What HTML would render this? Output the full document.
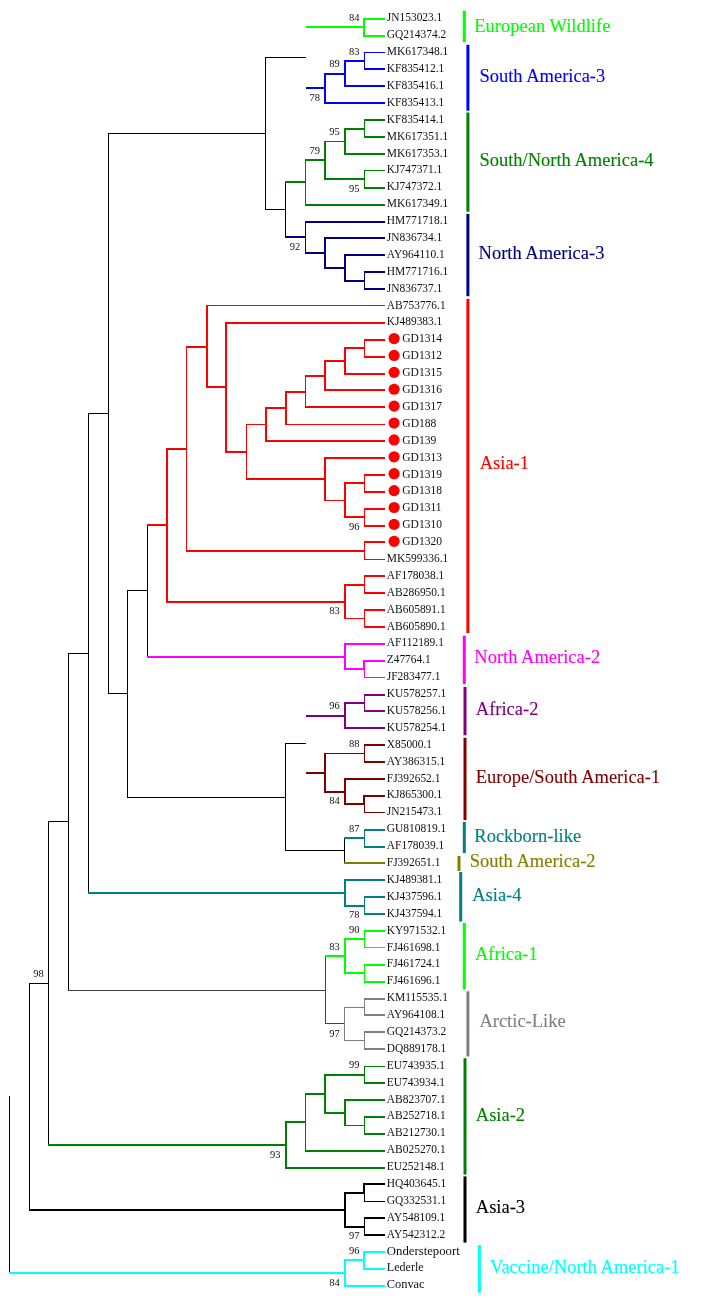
<!DOCTYPE html>
<html><head><meta charset="utf-8"><style>
html,body{margin:0;padding:0;background:#fff;width:701px;height:1298px;overflow:hidden}
svg{display:block;will-change:transform}
#w{width:701px;height:1298px}
.lf{font-family:"Liberation Serif",serif;font-size:12px;fill:#111}
.bt{font-family:"Liberation Serif",serif;font-size:10.5px;fill:#111}
.gp{font-family:"Liberation Serif",serif;font-size:18.5px;stroke-width:0.12px}
</style></head><body>
<div id="w"><svg width="701" height="1298" viewBox="0 0 701 1298">
<rect width="701" height="1298" fill="#fff"/>
<rect x="9" y="1096" width="1" height="90" fill="#000000"/>
<rect x="9" y="1185" width="1" height="89" fill="#000000"/>
<rect x="29" y="983" width="1" height="115" fill="#000000"/>
<rect x="29" y="1097" width="1" height="114" fill="#000000"/>
<rect x="29" y="983" width="20" height="1" fill="#000000"/>
<rect x="48" y="821" width="1" height="163" fill="#000000"/>
<rect x="48" y="983" width="1" height="163" fill="#000000"/>
<rect x="48" y="821" width="21" height="1" fill="#000000"/>
<rect x="68" y="653" width="1" height="170" fill="#000000"/>
<rect x="68" y="822" width="1" height="169" fill="#000000"/>
<rect x="68" y="653" width="21" height="1" fill="#000000"/>
<rect x="88" y="413" width="1" height="241" fill="#000000"/>
<rect x="88" y="653" width="1" height="241" fill="#000000"/>
<rect x="88" y="413" width="21" height="1" fill="#000000"/>
<rect x="108" y="133" width="1" height="282" fill="#000000"/>
<rect x="108" y="414" width="1" height="280" fill="#000000"/>
<rect x="108" y="133" width="158" height="1" fill="#000000"/>
<rect x="265" y="57" width="1" height="78" fill="#000000"/>
<rect x="265" y="134" width="1" height="76" fill="#000000"/>
<rect x="265" y="57" width="41" height="1" fill="#000000"/>
<rect x="265" y="209" width="21" height="1" fill="#000000"/>
<rect x="285" y="181" width="1" height="30" fill="#000000"/>
<rect x="285" y="210" width="1" height="28" fill="#000000"/>
<rect x="285" y="181" width="21" height="2" fill="#008000"/>
<rect x="305" y="159" width="1" height="24" fill="#008000"/>
<rect x="305" y="182" width="1" height="24" fill="#008000"/>
<rect x="305" y="159" width="21" height="2" fill="#008000"/>
<rect x="324" y="141" width="2" height="20" fill="#008000"/>
<rect x="324" y="160" width="2" height="20" fill="#008000"/>
<rect x="324" y="141" width="22" height="1" fill="#008000"/>
<rect x="344" y="128" width="2" height="14" fill="#008000"/>
<rect x="344" y="141" width="2" height="14" fill="#008000"/>
<rect x="344" y="128" width="21" height="2" fill="#008000"/>
<rect x="364" y="119" width="1" height="11" fill="#008000"/>
<rect x="364" y="129" width="1" height="9" fill="#008000"/>
<rect x="364" y="119" width="21" height="2" fill="#008000"/>
<rect x="364" y="136" width="21" height="2" fill="#008000"/>
<rect x="344" y="153" width="41" height="2" fill="#008000"/>
<rect x="324" y="178" width="41" height="2" fill="#008000"/>
<rect x="364" y="170" width="1" height="10" fill="#008000"/>
<rect x="364" y="179" width="1" height="10" fill="#008000"/>
<rect x="364" y="170" width="21" height="1" fill="#008000"/>
<rect x="364" y="187" width="21" height="2" fill="#008000"/>
<rect x="305" y="204" width="80" height="2" fill="#008000"/>
<rect x="285" y="236" width="21" height="2" fill="#000080"/>
<rect x="305" y="221" width="1" height="17" fill="#000080"/>
<rect x="305" y="237" width="1" height="17" fill="#000080"/>
<rect x="305" y="221" width="80" height="2" fill="#000080"/>
<rect x="305" y="252" width="21" height="2" fill="#000080"/>
<rect x="324" y="237" width="2" height="17" fill="#000080"/>
<rect x="324" y="253" width="2" height="16" fill="#000080"/>
<rect x="324" y="237" width="61" height="2" fill="#000080"/>
<rect x="324" y="267" width="22" height="2" fill="#000080"/>
<rect x="344" y="254" width="2" height="15" fill="#000080"/>
<rect x="344" y="268" width="2" height="14" fill="#000080"/>
<rect x="344" y="254" width="41" height="2" fill="#000080"/>
<rect x="344" y="280" width="21" height="2" fill="#000080"/>
<rect x="364" y="271" width="1" height="11" fill="#000080"/>
<rect x="364" y="281" width="1" height="9" fill="#000080"/>
<rect x="364" y="271" width="21" height="2" fill="#000080"/>
<rect x="364" y="288" width="21" height="2" fill="#000080"/>
<rect x="108" y="693" width="20" height="1" fill="#000000"/>
<rect x="127" y="590" width="1" height="105" fill="#000000"/>
<rect x="127" y="694" width="1" height="104" fill="#000000"/>
<rect x="127" y="590" width="21" height="1" fill="#000000"/>
<rect x="147" y="524" width="1" height="68" fill="#000000"/>
<rect x="147" y="591" width="1" height="67" fill="#000000"/>
<rect x="147" y="524" width="21" height="2" fill="#ff0000"/>
<rect x="166" y="448" width="2" height="78" fill="#ff0000"/>
<rect x="166" y="525" width="2" height="78" fill="#ff0000"/>
<rect x="166" y="448" width="21" height="2" fill="#ff0000"/>
<rect x="186" y="346" width="1" height="104" fill="#ff0000"/>
<rect x="186" y="449" width="1" height="103" fill="#ff0000"/>
<rect x="186" y="346" width="22" height="2" fill="#ff0000"/>
<rect x="206" y="305" width="2" height="43" fill="#ff0000"/>
<rect x="206" y="347" width="2" height="41" fill="#ff0000"/>
<rect x="206" y="305" width="179" height="1" fill="#ff0000"/>
<rect x="206" y="386" width="21" height="2" fill="#ff0000"/>
<rect x="225" y="322" width="2" height="66" fill="#ff0000"/>
<rect x="225" y="387" width="2" height="66" fill="#ff0000"/>
<rect x="225" y="322" width="160" height="2" fill="#ff0000"/>
<rect x="225" y="451" width="22" height="2" fill="#ff0000"/>
<rect x="246" y="424" width="1" height="29" fill="#ff0000"/>
<rect x="246" y="452" width="1" height="28" fill="#ff0000"/>
<rect x="246" y="424" width="21" height="1" fill="#ff0000"/>
<rect x="265" y="407" width="2" height="18" fill="#ff0000"/>
<rect x="265" y="424" width="2" height="18" fill="#ff0000"/>
<rect x="265" y="407" width="22" height="2" fill="#ff0000"/>
<rect x="285" y="391" width="2" height="18" fill="#ff0000"/>
<rect x="285" y="408" width="2" height="17" fill="#ff0000"/>
<rect x="285" y="391" width="21" height="2" fill="#ff0000"/>
<rect x="305" y="375" width="1" height="18" fill="#ff0000"/>
<rect x="305" y="392" width="1" height="16" fill="#ff0000"/>
<rect x="305" y="375" width="21" height="2" fill="#ff0000"/>
<rect x="324" y="360" width="2" height="17" fill="#ff0000"/>
<rect x="324" y="376" width="2" height="15" fill="#ff0000"/>
<rect x="324" y="360" width="22" height="2" fill="#ff0000"/>
<rect x="344" y="347" width="2" height="15" fill="#ff0000"/>
<rect x="344" y="361" width="2" height="14" fill="#ff0000"/>
<rect x="344" y="347" width="21" height="2" fill="#ff0000"/>
<rect x="364" y="339" width="1" height="10" fill="#ff0000"/>
<rect x="364" y="348" width="1" height="10" fill="#ff0000"/>
<rect x="364" y="339" width="21" height="2" fill="#ff0000"/>
<rect x="364" y="356" width="21" height="2" fill="#ff0000"/>
<rect x="344" y="373" width="41" height="2" fill="#ff0000"/>
<rect x="324" y="389" width="61" height="2" fill="#ff0000"/>
<rect x="305" y="406" width="80" height="2" fill="#ff0000"/>
<rect x="285" y="424" width="100" height="1" fill="#ff0000"/>
<rect x="265" y="440" width="120" height="2" fill="#ff0000"/>
<rect x="246" y="478" width="80" height="2" fill="#ff0000"/>
<rect x="324" y="457" width="2" height="23" fill="#ff0000"/>
<rect x="324" y="479" width="2" height="22" fill="#ff0000"/>
<rect x="324" y="457" width="61" height="2" fill="#ff0000"/>
<rect x="324" y="500" width="22" height="1" fill="#ff0000"/>
<rect x="344" y="482" width="2" height="19" fill="#ff0000"/>
<rect x="344" y="500" width="2" height="18" fill="#ff0000"/>
<rect x="344" y="482" width="21" height="2" fill="#ff0000"/>
<rect x="364" y="474" width="1" height="10" fill="#ff0000"/>
<rect x="364" y="483" width="1" height="10" fill="#ff0000"/>
<rect x="364" y="474" width="21" height="2" fill="#ff0000"/>
<rect x="364" y="491" width="21" height="2" fill="#ff0000"/>
<rect x="344" y="516" width="21" height="2" fill="#ff0000"/>
<rect x="364" y="508" width="1" height="10" fill="#ff0000"/>
<rect x="364" y="517" width="1" height="10" fill="#ff0000"/>
<rect x="364" y="508" width="21" height="2" fill="#ff0000"/>
<rect x="364" y="525" width="21" height="2" fill="#ff0000"/>
<rect x="186" y="550" width="179" height="2" fill="#ff0000"/>
<rect x="364" y="541" width="1" height="11" fill="#ff0000"/>
<rect x="364" y="551" width="1" height="9" fill="#ff0000"/>
<rect x="364" y="541" width="21" height="2" fill="#ff0000"/>
<rect x="364" y="559" width="21" height="1" fill="#ff0000"/>
<rect x="166" y="601" width="180" height="2" fill="#ff0000"/>
<rect x="344" y="584" width="2" height="19" fill="#ff0000"/>
<rect x="344" y="602" width="2" height="17" fill="#ff0000"/>
<rect x="344" y="584" width="21" height="2" fill="#ff0000"/>
<rect x="364" y="575" width="1" height="11" fill="#ff0000"/>
<rect x="364" y="585" width="1" height="9" fill="#ff0000"/>
<rect x="364" y="575" width="21" height="2" fill="#ff0000"/>
<rect x="364" y="592" width="21" height="2" fill="#ff0000"/>
<rect x="344" y="618" width="21" height="1" fill="#ff0000"/>
<rect x="364" y="609" width="1" height="11" fill="#ff0000"/>
<rect x="364" y="619" width="1" height="9" fill="#ff0000"/>
<rect x="364" y="609" width="21" height="2" fill="#ff0000"/>
<rect x="364" y="626" width="21" height="2" fill="#ff0000"/>
<rect x="147" y="656" width="199" height="2" fill="#ff00ff"/>
<rect x="344" y="643" width="2" height="15" fill="#ff00ff"/>
<rect x="344" y="657" width="2" height="13" fill="#ff00ff"/>
<rect x="344" y="643" width="41" height="2" fill="#ff00ff"/>
<rect x="344" y="668" width="21" height="2" fill="#ff00ff"/>
<rect x="363" y="660" width="2" height="10" fill="#ff00ff"/>
<rect x="364" y="669" width="1" height="9" fill="#ff00ff"/>
<rect x="363" y="660" width="22" height="2" fill="#ff00ff"/>
<rect x="364" y="677" width="21" height="1" fill="#ff00ff"/>
<rect x="127" y="797" width="159" height="1" fill="#000000"/>
<rect x="285" y="743" width="1" height="55" fill="#000000"/>
<rect x="285" y="797" width="1" height="54" fill="#000000"/>
<rect x="285" y="743" width="21" height="1" fill="#000000"/>
<rect x="285" y="850" width="60" height="1" fill="#000000"/>
<rect x="344" y="837" width="1" height="15" fill="#000000"/>
<rect x="344" y="851" width="1" height="13" fill="#000000"/>
<rect x="344" y="837" width="21" height="2" fill="#008080"/>
<rect x="364" y="829" width="1" height="10" fill="#008080"/>
<rect x="364" y="838" width="1" height="10" fill="#008080"/>
<rect x="364" y="829" width="21" height="2" fill="#008080"/>
<rect x="364" y="846" width="21" height="2" fill="#008080"/>
<rect x="344" y="862" width="41" height="2" fill="#808000"/>
<rect x="88" y="892" width="258" height="2" fill="#008080"/>
<rect x="344" y="879" width="2" height="15" fill="#008080"/>
<rect x="344" y="893" width="2" height="14" fill="#008080"/>
<rect x="344" y="879" width="41" height="2" fill="#008080"/>
<rect x="344" y="905" width="21" height="2" fill="#008080"/>
<rect x="364" y="896" width="1" height="11" fill="#008080"/>
<rect x="364" y="906" width="1" height="9" fill="#008080"/>
<rect x="364" y="896" width="21" height="2" fill="#008080"/>
<rect x="364" y="913" width="21" height="2" fill="#008080"/>
<rect x="68" y="990" width="258" height="1" fill="#404040"/>
<rect x="325" y="955" width="1" height="36" fill="#404040"/>
<rect x="325" y="990" width="1" height="34" fill="#404040"/>
<rect x="325" y="955" width="21" height="2" fill="#00ff00"/>
<rect x="344" y="938" width="2" height="19" fill="#00ff00"/>
<rect x="344" y="956" width="2" height="18" fill="#00ff00"/>
<rect x="344" y="938" width="21" height="2" fill="#00ff00"/>
<rect x="364" y="930" width="1" height="10" fill="#00ff00"/>
<rect x="364" y="939" width="1" height="9" fill="#00ff00"/>
<rect x="364" y="930" width="21" height="2" fill="#00ff00"/>
<rect x="364" y="947" width="21" height="1" fill="#00ff00"/>
<rect x="344" y="972" width="21" height="2" fill="#00ff00"/>
<rect x="364" y="964" width="1" height="10" fill="#00ff00"/>
<rect x="364" y="973" width="1" height="10" fill="#00ff00"/>
<rect x="364" y="964" width="21" height="2" fill="#00ff00"/>
<rect x="364" y="981" width="21" height="2" fill="#00ff00"/>
<rect x="325" y="1023" width="20" height="1" fill="#404040"/>
<rect x="344" y="1007" width="1" height="18" fill="#808080"/>
<rect x="344" y="1024" width="1" height="17" fill="#808080"/>
<rect x="344" y="1007" width="21" height="1" fill="#808080"/>
<rect x="364" y="998" width="1" height="10" fill="#808080"/>
<rect x="364" y="1007" width="1" height="9" fill="#808080"/>
<rect x="364" y="998" width="21" height="2" fill="#808080"/>
<rect x="364" y="1014" width="21" height="2" fill="#808080"/>
<rect x="344" y="1040" width="21" height="1" fill="#808080"/>
<rect x="364" y="1031" width="1" height="11" fill="#808080"/>
<rect x="364" y="1041" width="1" height="9" fill="#808080"/>
<rect x="364" y="1031" width="21" height="2" fill="#808080"/>
<rect x="364" y="1048" width="21" height="2" fill="#808080"/>
<rect x="48" y="1144" width="239" height="2" fill="#008000"/>
<rect x="285" y="1121" width="2" height="25" fill="#008000"/>
<rect x="285" y="1145" width="2" height="24" fill="#008000"/>
<rect x="285" y="1121" width="21" height="2" fill="#008000"/>
<rect x="305" y="1093" width="1" height="30" fill="#008000"/>
<rect x="305" y="1122" width="1" height="30" fill="#008000"/>
<rect x="305" y="1093" width="21" height="2" fill="#008000"/>
<rect x="324" y="1074" width="2" height="21" fill="#008000"/>
<rect x="324" y="1094" width="2" height="20" fill="#008000"/>
<rect x="324" y="1074" width="41" height="2" fill="#008000"/>
<rect x="364" y="1066" width="1" height="10" fill="#008000"/>
<rect x="364" y="1075" width="1" height="9" fill="#008000"/>
<rect x="364" y="1066" width="21" height="1" fill="#008000"/>
<rect x="364" y="1082" width="21" height="2" fill="#008000"/>
<rect x="324" y="1112" width="22" height="2" fill="#008000"/>
<rect x="344" y="1099" width="2" height="15" fill="#008000"/>
<rect x="344" y="1113" width="2" height="13" fill="#008000"/>
<rect x="344" y="1099" width="41" height="2" fill="#008000"/>
<rect x="344" y="1125" width="21" height="1" fill="#008000"/>
<rect x="364" y="1116" width="1" height="10" fill="#008000"/>
<rect x="364" y="1125" width="1" height="10" fill="#008000"/>
<rect x="364" y="1116" width="21" height="2" fill="#008000"/>
<rect x="364" y="1133" width="21" height="2" fill="#008000"/>
<rect x="305" y="1150" width="80" height="2" fill="#008000"/>
<rect x="285" y="1167" width="100" height="2" fill="#008000"/>
<rect x="29" y="1209" width="317" height="2" fill="#000000"/>
<rect x="344" y="1192" width="2" height="19" fill="#000000"/>
<rect x="344" y="1210" width="2" height="18" fill="#000000"/>
<rect x="344" y="1192" width="21" height="2" fill="#000000"/>
<rect x="363" y="1183" width="2" height="11" fill="#000000"/>
<rect x="364" y="1193" width="1" height="9" fill="#000000"/>
<rect x="363" y="1183" width="22" height="2" fill="#000000"/>
<rect x="364" y="1201" width="21" height="1" fill="#000000"/>
<rect x="344" y="1226" width="21" height="2" fill="#000000"/>
<rect x="364" y="1217" width="1" height="11" fill="#000000"/>
<rect x="364" y="1227" width="1" height="9" fill="#000000"/>
<rect x="364" y="1217" width="21" height="2" fill="#000000"/>
<rect x="364" y="1234" width="21" height="2" fill="#000000"/>
<rect x="9" y="1272" width="337" height="2" fill="#00ffff"/>
<rect x="344" y="1259" width="2" height="15" fill="#00ffff"/>
<rect x="344" y="1273" width="2" height="14" fill="#00ffff"/>
<rect x="344" y="1259" width="21" height="2" fill="#00ffff"/>
<rect x="363" y="1251" width="2" height="10" fill="#00ffff"/>
<rect x="363" y="1260" width="2" height="10" fill="#00ffff"/>
<rect x="363" y="1251" width="22" height="2" fill="#00ffff"/>
<rect x="363" y="1268" width="22" height="2" fill="#00ffff"/>
<rect x="344" y="1285" width="41" height="2" fill="#00ffff"/>
<rect x="306" y="26" width="59" height="2" fill="#00ff00"/>
<rect x="363" y="18" width="2" height="10" fill="#00ff00"/>
<rect x="363" y="27" width="2" height="10" fill="#00ff00"/>
<rect x="363" y="18" width="22" height="2" fill="#00ff00"/>
<rect x="363" y="35" width="22" height="2" fill="#00ff00"/>
<rect x="306" y="87" width="20" height="2" fill="#0000ff"/>
<rect x="324" y="73" width="2" height="16" fill="#0000ff"/>
<rect x="324" y="88" width="2" height="16" fill="#0000ff"/>
<rect x="324" y="73" width="22" height="2" fill="#0000ff"/>
<rect x="344" y="60" width="2" height="15" fill="#0000ff"/>
<rect x="344" y="74" width="2" height="13" fill="#0000ff"/>
<rect x="344" y="60" width="21" height="2" fill="#0000ff"/>
<rect x="364" y="52" width="1" height="10" fill="#0000ff"/>
<rect x="364" y="61" width="1" height="9" fill="#0000ff"/>
<rect x="364" y="52" width="21" height="1" fill="#0000ff"/>
<rect x="364" y="68" width="21" height="2" fill="#0000ff"/>
<rect x="344" y="85" width="41" height="2" fill="#0000ff"/>
<rect x="324" y="102" width="61" height="2" fill="#0000ff"/>
<rect x="306" y="715" width="40" height="2" fill="#800080"/>
<rect x="344" y="702" width="2" height="15" fill="#800080"/>
<rect x="344" y="716" width="2" height="13" fill="#800080"/>
<rect x="344" y="702" width="21" height="2" fill="#800080"/>
<rect x="364" y="694" width="1" height="10" fill="#800080"/>
<rect x="364" y="703" width="1" height="9" fill="#800080"/>
<rect x="364" y="694" width="21" height="2" fill="#800080"/>
<rect x="364" y="710" width="21" height="2" fill="#800080"/>
<rect x="344" y="727" width="41" height="2" fill="#800080"/>
<rect x="306" y="772" width="20" height="2" fill="#800000"/>
<rect x="324" y="753" width="2" height="21" fill="#800000"/>
<rect x="324" y="773" width="2" height="20" fill="#800000"/>
<rect x="324" y="753" width="41" height="1" fill="#800000"/>
<rect x="364" y="744" width="1" height="11" fill="#800000"/>
<rect x="364" y="754" width="1" height="9" fill="#800000"/>
<rect x="364" y="744" width="21" height="2" fill="#800000"/>
<rect x="364" y="761" width="21" height="2" fill="#800000"/>
<rect x="324" y="791" width="22" height="2" fill="#800000"/>
<rect x="344" y="778" width="2" height="15" fill="#800000"/>
<rect x="344" y="792" width="2" height="13" fill="#800000"/>
<rect x="344" y="778" width="41" height="2" fill="#800000"/>
<rect x="344" y="803" width="21" height="2" fill="#800000"/>
<rect x="363" y="795" width="2" height="10" fill="#800000"/>
<rect x="364" y="804" width="1" height="9" fill="#800000"/>
<rect x="363" y="795" width="22" height="2" fill="#800000"/>
<rect x="364" y="812" width="21" height="1" fill="#800000"/>
<circle cx="394.1" cy="338.57" r="5.6" fill="#ff0000"/>
<circle cx="394.1" cy="355.46" r="5.6" fill="#ff0000"/>
<circle cx="394.1" cy="372.35" r="5.6" fill="#ff0000"/>
<circle cx="394.1" cy="389.25" r="5.6" fill="#ff0000"/>
<circle cx="394.1" cy="406.14" r="5.6" fill="#ff0000"/>
<circle cx="394.1" cy="423.03" r="5.6" fill="#ff0000"/>
<circle cx="394.1" cy="439.93" r="5.6" fill="#ff0000"/>
<circle cx="394.1" cy="456.82" r="5.6" fill="#ff0000"/>
<circle cx="394.1" cy="473.71" r="5.6" fill="#ff0000"/>
<circle cx="394.1" cy="490.6" r="5.6" fill="#ff0000"/>
<circle cx="394.1" cy="507.5" r="5.6" fill="#ff0000"/>
<circle cx="394.1" cy="524.39" r="5.6" fill="#ff0000"/>
<circle cx="394.1" cy="541.28" r="5.6" fill="#ff0000"/>
<text class="lf" x="386.8" y="21.4" textLength="55.54" lengthAdjust="spacingAndGlyphs">JN153023.1</text>
<text class="lf" x="386.8" y="38.29" textLength="59.53" lengthAdjust="spacingAndGlyphs">GQ214374.2</text>
<text class="lf" x="386.8" y="55.19" textLength="61.54" lengthAdjust="spacingAndGlyphs">MK617348.1</text>
<text class="lf" x="386.8" y="72.08" textLength="57.54" lengthAdjust="spacingAndGlyphs">KF835412.1</text>
<text class="lf" x="386.8" y="88.97" textLength="57.54" lengthAdjust="spacingAndGlyphs">KF835416.1</text>
<text class="lf" x="386.8" y="105.86" textLength="57.54" lengthAdjust="spacingAndGlyphs">KF835413.1</text>
<text class="lf" x="386.8" y="122.76" textLength="57.54" lengthAdjust="spacingAndGlyphs">KF835414.1</text>
<text class="lf" x="386.8" y="139.65" textLength="61.54" lengthAdjust="spacingAndGlyphs">MK617351.1</text>
<text class="lf" x="386.8" y="156.54" textLength="61.54" lengthAdjust="spacingAndGlyphs">MK617353.1</text>
<text class="lf" x="386.8" y="173.44" textLength="55.54" lengthAdjust="spacingAndGlyphs">KJ747371.1</text>
<text class="lf" x="386.8" y="190.33" textLength="55.54" lengthAdjust="spacingAndGlyphs">KJ747372.1</text>
<text class="lf" x="386.8" y="207.22" textLength="61.54" lengthAdjust="spacingAndGlyphs">MK617349.1</text>
<text class="lf" x="386.8" y="224.12" textLength="61.54" lengthAdjust="spacingAndGlyphs">HM771718.1</text>
<text class="lf" x="386.8" y="241.01" textLength="55.54" lengthAdjust="spacingAndGlyphs">JN836734.1</text>
<text class="lf" x="386.8" y="257.9" textLength="57.98" lengthAdjust="spacingAndGlyphs">AY964110.1</text>
<text class="lf" x="386.8" y="274.8" textLength="61.54" lengthAdjust="spacingAndGlyphs">HM771716.1</text>
<text class="lf" x="386.8" y="291.69" textLength="55.54" lengthAdjust="spacingAndGlyphs">JN836737.1</text>
<text class="lf" x="386.8" y="308.58" textLength="58.87" lengthAdjust="spacingAndGlyphs">AB753776.1</text>
<text class="lf" x="386.8" y="325.47" textLength="55.54" lengthAdjust="spacingAndGlyphs">KJ489383.1</text>
<text class="lf" x="402.3" y="342.37" textLength="39.73" lengthAdjust="spacingAndGlyphs">GD1314</text>
<text class="lf" x="402.3" y="359.26" textLength="39.73" lengthAdjust="spacingAndGlyphs">GD1312</text>
<text class="lf" x="402.3" y="376.15" textLength="39.73" lengthAdjust="spacingAndGlyphs">GD1315</text>
<text class="lf" x="402.3" y="393.05" textLength="39.73" lengthAdjust="spacingAndGlyphs">GD1316</text>
<text class="lf" x="402.3" y="409.94" textLength="39.73" lengthAdjust="spacingAndGlyphs">GD1317</text>
<text class="lf" x="402.3" y="426.83" textLength="34.13" lengthAdjust="spacingAndGlyphs">GD188</text>
<text class="lf" x="402.3" y="443.73" textLength="34.13" lengthAdjust="spacingAndGlyphs">GD139</text>
<text class="lf" x="402.3" y="460.62" textLength="39.73" lengthAdjust="spacingAndGlyphs">GD1313</text>
<text class="lf" x="402.3" y="477.51" textLength="39.73" lengthAdjust="spacingAndGlyphs">GD1319</text>
<text class="lf" x="402.3" y="494.4" textLength="39.73" lengthAdjust="spacingAndGlyphs">GD1318</text>
<text class="lf" x="402.3" y="511.3" textLength="39.29" lengthAdjust="spacingAndGlyphs">GD1311</text>
<text class="lf" x="402.3" y="528.19" textLength="39.73" lengthAdjust="spacingAndGlyphs">GD1310</text>
<text class="lf" x="402.3" y="545.08" textLength="39.73" lengthAdjust="spacingAndGlyphs">GD1320</text>
<text class="lf" x="386.8" y="561.98" textLength="61.54" lengthAdjust="spacingAndGlyphs">MK599336.1</text>
<text class="lf" x="386.8" y="578.87" textLength="57.54" lengthAdjust="spacingAndGlyphs">AF178038.1</text>
<text class="lf" x="386.8" y="595.76" textLength="58.87" lengthAdjust="spacingAndGlyphs">AB286950.1</text>
<text class="lf" x="386.8" y="612.65" textLength="58.87" lengthAdjust="spacingAndGlyphs">AB605891.1</text>
<text class="lf" x="386.8" y="629.55" textLength="58.87" lengthAdjust="spacingAndGlyphs">AB605890.1</text>
<text class="lf" x="386.8" y="646.44" textLength="57.09" lengthAdjust="spacingAndGlyphs">AF112189.1</text>
<text class="lf" x="386.8" y="663.33" textLength="43.93" lengthAdjust="spacingAndGlyphs">Z47764.1</text>
<text class="lf" x="386.8" y="680.23" textLength="53.54" lengthAdjust="spacingAndGlyphs">JF283477.1</text>
<text class="lf" x="386.8" y="697.12" textLength="59.53" lengthAdjust="spacingAndGlyphs">KU578257.1</text>
<text class="lf" x="386.8" y="714.01" textLength="59.53" lengthAdjust="spacingAndGlyphs">KU578256.1</text>
<text class="lf" x="386.8" y="730.91" textLength="59.53" lengthAdjust="spacingAndGlyphs">KU578254.1</text>
<text class="lf" x="386.8" y="747.8" textLength="45.27" lengthAdjust="spacingAndGlyphs">X85000.1</text>
<text class="lf" x="386.8" y="764.69" textLength="58.43" lengthAdjust="spacingAndGlyphs">AY386315.1</text>
<text class="lf" x="386.8" y="781.59" textLength="53.54" lengthAdjust="spacingAndGlyphs">FJ392652.1</text>
<text class="lf" x="386.8" y="798.48" textLength="55.54" lengthAdjust="spacingAndGlyphs">KJ865300.1</text>
<text class="lf" x="386.8" y="815.37" textLength="55.54" lengthAdjust="spacingAndGlyphs">JN215473.1</text>
<text class="lf" x="386.8" y="832.26" textLength="59.53" lengthAdjust="spacingAndGlyphs">GU810819.1</text>
<text class="lf" x="386.8" y="849.16" textLength="57.54" lengthAdjust="spacingAndGlyphs">AF178039.1</text>
<text class="lf" x="386.8" y="866.05" textLength="53.54" lengthAdjust="spacingAndGlyphs">FJ392651.1</text>
<text class="lf" x="386.8" y="882.94" textLength="55.54" lengthAdjust="spacingAndGlyphs">KJ489381.1</text>
<text class="lf" x="386.8" y="899.84" textLength="55.54" lengthAdjust="spacingAndGlyphs">KJ437596.1</text>
<text class="lf" x="386.8" y="916.73" textLength="55.54" lengthAdjust="spacingAndGlyphs">KJ437594.1</text>
<text class="lf" x="386.8" y="933.62" textLength="59.53" lengthAdjust="spacingAndGlyphs">KY971532.1</text>
<text class="lf" x="386.8" y="950.51" textLength="53.54" lengthAdjust="spacingAndGlyphs">FJ461698.1</text>
<text class="lf" x="386.8" y="967.41" textLength="53.54" lengthAdjust="spacingAndGlyphs">FJ461724.1</text>
<text class="lf" x="386.8" y="984.3" textLength="53.54" lengthAdjust="spacingAndGlyphs">FJ461696.1</text>
<text class="lf" x="386.8" y="1001.19" textLength="61.09" lengthAdjust="spacingAndGlyphs">KM115535.1</text>
<text class="lf" x="386.8" y="1018.09" textLength="58.43" lengthAdjust="spacingAndGlyphs">AY964108.1</text>
<text class="lf" x="386.8" y="1034.98" textLength="59.53" lengthAdjust="spacingAndGlyphs">GQ214373.2</text>
<text class="lf" x="386.8" y="1051.87" textLength="59.53" lengthAdjust="spacingAndGlyphs">DQ889178.1</text>
<text class="lf" x="386.8" y="1068.77" textLength="58.2" lengthAdjust="spacingAndGlyphs">EU743935.1</text>
<text class="lf" x="386.8" y="1085.66" textLength="58.2" lengthAdjust="spacingAndGlyphs">EU743934.1</text>
<text class="lf" x="386.8" y="1102.55" textLength="58.87" lengthAdjust="spacingAndGlyphs">AB823707.1</text>
<text class="lf" x="386.8" y="1119.44" textLength="58.87" lengthAdjust="spacingAndGlyphs">AB252718.1</text>
<text class="lf" x="386.8" y="1136.34" textLength="58.87" lengthAdjust="spacingAndGlyphs">AB212730.1</text>
<text class="lf" x="386.8" y="1153.23" textLength="58.87" lengthAdjust="spacingAndGlyphs">AB025270.1</text>
<text class="lf" x="386.8" y="1170.12" textLength="58.2" lengthAdjust="spacingAndGlyphs">EU252148.1</text>
<text class="lf" x="386.8" y="1187.02" textLength="59.53" lengthAdjust="spacingAndGlyphs">HQ403645.1</text>
<text class="lf" x="386.8" y="1203.91" textLength="59.53" lengthAdjust="spacingAndGlyphs">GQ332531.1</text>
<text class="lf" x="386.8" y="1220.8" textLength="58.43" lengthAdjust="spacingAndGlyphs">AY548109.1</text>
<text class="lf" x="386.8" y="1237.7" textLength="58.43" lengthAdjust="spacingAndGlyphs">AY542312.2</text>
<text class="lf" x="386.8" y="1254.59" textLength="73" lengthAdjust="spacingAndGlyphs">Onderstepoort</text>
<text class="lf" x="386.8" y="1271.48" textLength="36.8" lengthAdjust="spacingAndGlyphs">Lederle</text>
<text class="lf" x="386.8" y="1288.38" textLength="37.8" lengthAdjust="spacingAndGlyphs">Convac</text>
<text class="bt" x="339.77" y="134.97" text-anchor="end">95</text>
<text class="bt" x="359.5" y="191.98" text-anchor="end">95</text>
<text class="bt" x="320.04" y="153.98" text-anchor="end">79</text>
<text class="bt" x="300.31" y="250.05" text-anchor="end">92</text>
<text class="bt" x="359.5" y="529.84" text-anchor="end">96</text>
<text class="bt" x="339.77" y="614.31" text-anchor="end">83</text>
<text class="bt" x="359.5" y="831.81" text-anchor="end">87</text>
<text class="bt" x="359.5" y="918.38" text-anchor="end">78</text>
<text class="bt" x="359.5" y="933.17" text-anchor="end">90</text>
<text class="bt" x="339.77" y="950.06" text-anchor="end">83</text>
<text class="bt" x="359.5" y="1068.31" text-anchor="end">99</text>
<text class="bt" x="280.58" y="1157.52" text-anchor="end">93</text>
<text class="bt" x="43.82" y="977.01" text-anchor="end">98</text>
<text class="bt" x="359.5" y="1239.35" text-anchor="end">97</text>
<text class="bt" x="359.5" y="1254.14" text-anchor="end">96</text>
<text class="bt" x="339.77" y="1285.81" text-anchor="end">84</text>
<text class="bt" x="359.5" y="20.95" text-anchor="end">84</text>
<text class="bt" x="359.5" y="54.73" text-anchor="end">83</text>
<text class="bt" x="339.77" y="67.4" text-anchor="end">89</text>
<text class="bt" x="320.04" y="101.18" text-anchor="end">78</text>
<text class="bt" x="339.77" y="709.34" text-anchor="end">96</text>
<text class="bt" x="359.5" y="747.35" text-anchor="end">88</text>
<text class="bt" x="339.77" y="804.35" text-anchor="end">84</text>
<text class="bt" x="339.77" y="1036.63" text-anchor="end">97</text>
<rect x="462.8" y="10.7" width="3" height="31.5" fill="#00ff00"/>
<text class="gp" x="474.3" y="31.5" fill="#00ff00" stroke="#00ff00">European Wildlife</text>
<rect x="466.4" y="44.8" width="3" height="65.9" fill="#0000ff"/>
<text class="gp" x="479.4" y="82.3" fill="#0000ff" stroke="#0000ff">South America-3</text>
<rect x="466.4" y="112.5" width="3" height="99.2" fill="#008000"/>
<text class="gp" x="479.4" y="166.2" fill="#008000" stroke="#008000">South/North America-4</text>
<rect x="466.4" y="213.9" width="3" height="82.3" fill="#000080"/>
<text class="gp" x="478.6" y="258.6" fill="#000080" stroke="#000080">North America-3</text>
<rect x="466.4" y="299" width="3" height="334" fill="#ff0000"/>
<text class="gp" x="479.7" y="469" fill="#ff0000" stroke="#ff0000">Asia-1</text>
<rect x="462.8" y="635.7" width="3" height="48.4" fill="#ff00ff"/>
<text class="gp" x="474.3" y="663.3" fill="#ff00ff" stroke="#ff00ff">North America-2</text>
<rect x="463.5" y="687" width="3" height="48.3" fill="#800080"/>
<text class="gp" x="475.8" y="714.5" fill="#800080" stroke="#800080">Africa-2</text>
<rect x="463.5" y="737.8" width="3" height="82.3" fill="#800000"/>
<text class="gp" x="475.8" y="782.5" fill="#800000" stroke="#800000">Europe/South America-1</text>
<rect x="462.8" y="822" width="3" height="31.1" fill="#008080"/>
<text class="gp" x="474.3" y="841.6" fill="#008080" stroke="#008080">Rockborn-like</text>
<rect x="457.5" y="856" width="3" height="15" fill="#808000"/>
<text class="gp" x="469.7" y="866.7" fill="#808000" stroke="#808000">South America-2</text>
<rect x="459.2" y="872" width="3" height="49.5" fill="#008080"/>
<text class="gp" x="472.2" y="900.7" fill="#008080" stroke="#008080">Asia-4</text>
<rect x="462.8" y="922.9" width="3" height="66.6" fill="#00ff00"/>
<text class="gp" x="475" y="959.8" fill="#00ff00" stroke="#00ff00">Africa-1</text>
<rect x="466.4" y="991.3" width="3" height="65.1" fill="#808080"/>
<text class="gp" x="479.4" y="1027.1" fill="#808080" stroke="#808080">Arctic-Like</text>
<rect x="463.5" y="1058.2" width="3" height="116.4" fill="#008000"/>
<text class="gp" x="475.8" y="1120.9" fill="#008000" stroke="#008000">Asia-2</text>
<rect x="463.5" y="1176.4" width="3" height="66.2" fill="#000000"/>
<text class="gp" x="475.8" y="1213.2" fill="#000000" stroke="#000000">Asia-3</text>
<rect x="477.9" y="1245.1" width="3" height="47.6" fill="#00ffff"/>
<text class="gp" x="490.1" y="1273" fill="#00ffff" stroke="#00ffff">Vaccine/North America-1</text>
</svg></div>
</body></html>
